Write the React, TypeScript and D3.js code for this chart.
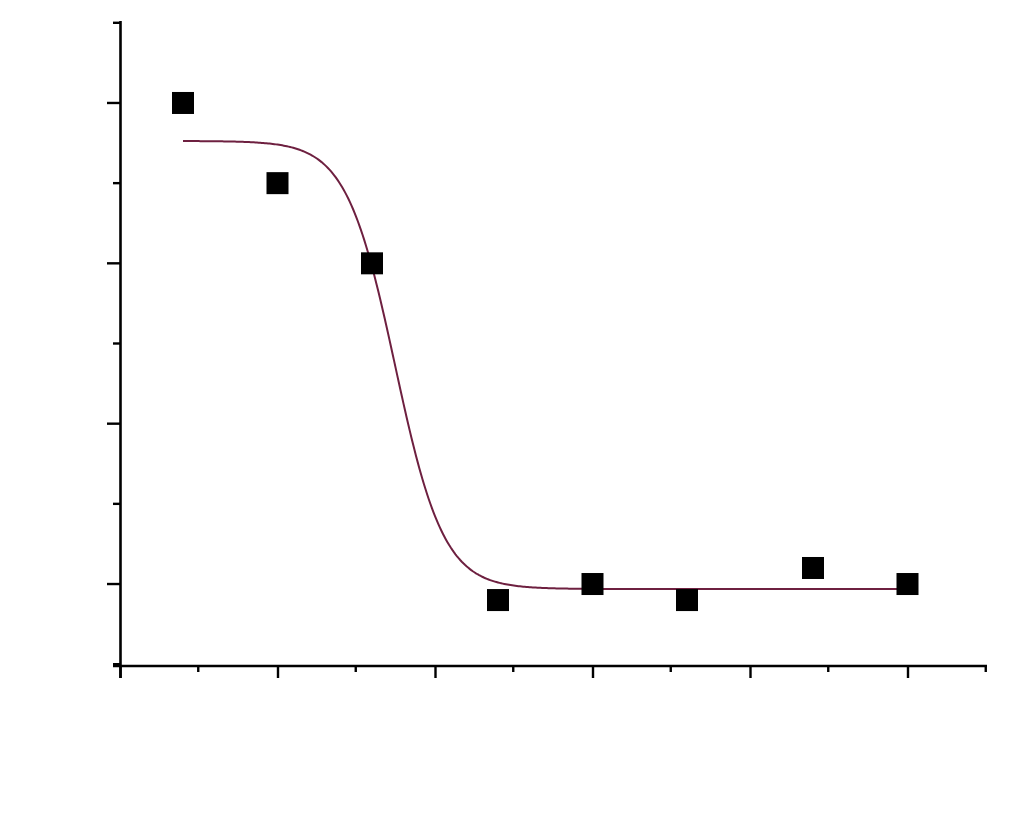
import React from "react";
import * as d3 from "d3";

const xValues = [0.4, 1.0, 1.6, 2.4, 3.0, 3.6, 4.4, 5.0];
const yValues = [3.0, 2.5, 2.0, -0.1, 0.0, -0.1, 0.1, 0.0];
const xMajorTicks = [0, 1, 2, 3, 4, 5];
const xMinorTicks = [0.5, 1.5, 2.5, 3.5, 4.5, 5.5];
const yMajorTicks = [0, 1, 2, 3];
const yMinorTicks = [-0.5, 0.5, 1.5, 2.5, 3.5];
// fitted logistic (dose-response) parameters
const fitTop = 2.763;
const fitBottom = -0.031;
const fitX0 = 1.746;
const fitSlope = 6.45;
const fitRange = [0.4, 5.0];

export default function App() {
  const W = 1016, H = 815;
  const x = d3.scaleLinear().domain([0, 5.5]).range([120, 986.25]);
  const y = d3.scaleLinear().domain([-0.5, 3.5]).range([664.2, 22.8]);
  const y0 = 666;
  const x0 = 120.5;

  const curveXs = d3.range(fitRange[0], fitRange[1] + 1e-9, 0.01);
  const curvePts: [number, number][] = curveXs.map((v) => [
    v,
    fitBottom + (fitTop - fitBottom) / (1 + Math.exp(fitSlope * (v - fitX0))),
  ]);
  const line = d3
    .line<[number, number]>()
    .x((d) => x(d[0]))
    .y((d) => y(d[1]))
    .curve(d3.curveLinear);

  const sq = 22;
  return (
    <svg
      width={W}
      height={H}
      style={{ position: "absolute", left: 0, top: 0, background: "#fff" }}
    >
      {/* y axis */}
      <line x1={x0} x2={x0} y1={21} y2={678} stroke="#000" strokeWidth={2.6} />
      {yMajorTicks.map((t) => (
        <line key={"ym" + t} x1={107} x2={x0} y1={y(t)} y2={y(t)} stroke="#000" strokeWidth={2.4} />
      ))}
      {yMinorTicks.map((t) => (
        <line key={"yn" + t} x1={113} x2={x0} y1={y(t)} y2={y(t)} stroke="#000" strokeWidth={2.4} />
      ))}
      {/* x axis */}
      <line x1={113} x2={987} y1={y0} y2={y0} stroke="#000" strokeWidth={2.6} />
      {xMajorTicks.map((t) => (
        <line key={"xm" + t} x1={x(t) + 0.5} x2={x(t) + 0.5} y1={y0} y2={678} stroke="#000" strokeWidth={2.4} />
      ))}
      {xMinorTicks.map((t) => (
        <line key={"xn" + t} x1={x(t) - 0.5} x2={x(t) - 0.5} y1={y0} y2={672} stroke="#000" strokeWidth={2.4} />
      ))}
      {/* fitted curve */}
      <path d={line(curvePts) || ""} fill="none" stroke="#6e2040" strokeWidth={2} />
      {/* data points */}
      {xValues.map((v, i) => (
        <rect
          key={"p" + i}
          x={x(v) - sq / 2}
          y={y(yValues[i]) - sq / 2}
          width={sq}
          height={sq}
          fill="#000"
        />
      ))}
    </svg>
  );
}
